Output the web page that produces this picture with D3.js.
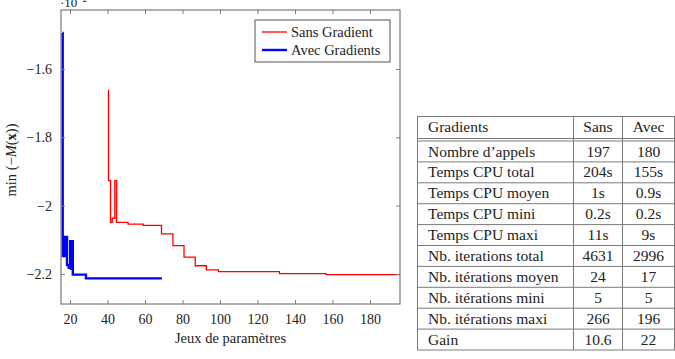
<!DOCTYPE html>
<html>
<head>
<meta charset="utf-8">
<script src="https://cdn.jsdelivr.net/npm/d3@7"></script>
<style>
  body { margin: 0; background: #fff; }
  text { font-family: "Liberation Serif", "DejaVu Serif", serif; fill: #222; }
</style>
</head>
<body>
<svg width="675" height="359"></svg>
<script>
// data, values scaled by 10^-2 like the original axis
const sansX = [40.3, 40.5, 41.6, 42.5, 43.9, 44.8, 51, 59, 68.8, 74.9, 80.8, 86.8, 92.7, 99.2, 131.7, 156.5, 197];
const sansY = [-1.663, -1.927, -2.049, -2.037, -1.927, -2.049, -2.054, -2.058, -2.083, -2.117, -2.151, -2.176, -2.188, -2.193, -2.199, -2.202, -2.202];
const avecX = [16, 16.1, 16.5, 16.9, 17.3, 17.7, 18.1, 18.4, 19.3, 20.1, 20.6, 21.1, 21.5, 28.5, 69];
const avecY = [-1.495, -2.148, -2.092, -2.148, -2.092, -2.148, -2.092, -2.174, -2.182, -2.104, -2.185, -2.104, -2.202, -2.213, -2.213];
const xTicks = [20, 40, 60, 80, 100, 120, 140, 160, 180];
const yTicks = [-1.6, -1.8, -2, -2.2];
const seriesNames = ['Sans Gradient', 'Avec Gradients'];
const seriesColors = ['#ff0000', '#0000ff'];

const tableHead = ['Gradients', 'Sans', 'Avec'];
const tableRows = ['Nombre d\u2019appels', 'Temps CPU total', 'Temps CPU moyen', 'Temps CPU mini', 'Temps CPU maxi',
  'Nb. iterations total', 'Nb. it\u00e9rations moyen', 'Nb. it\u00e9rations mini', 'Nb. it\u00e9rations maxi', 'Gain'];
const colSans = ['197', '204s', '1s', '0.2s', '11s', '4631', '24', '5', '266', '10.6'];
const colAvec = ['180', '155s', '0.9s', '0.2s', '9s', '2996', '17', '5', '196', '22'];

const svg = d3.select('svg');
const axisColor = '#7a7a7a';

// plot area
const L = 61, R = 400, T = 10, B = 304;
const x = d3.scaleLinear().domain([15.2, 196]).range([L, R]);
const y = d3.scaleLinear().domain([-2.288, -1.4275]).range([B, T]);
const fmt = d => (d < 0 ? '\u2212' : '') + Math.abs(d);

const clip = svg.append('clipPath').attr('id', 'plotclip')
clip.append('rect').attr('x', L).attr('y', T).attr('width', R - L).attr('height', B - T)

// series
const line = d3.line().curve(d3.curveStepAfter)
  .x(d => x(d[0])).y(d => y(d[1]))
const sansPts = sansX.map((v, i) => [v, sansY[i]])
const avecPts = avecX.map((v, i) => [v, avecY[i]])

svg.append('path')
  .attr('d', line(sansPts))
  .attr('fill', 'none')
  .attr('stroke', seriesColors[0])
  .attr('stroke-width', 1.3)
  .attr('clip-path', 'url(#plotclip)')

svg.append('path')
  .attr('d', line(avecPts))
  .attr('fill', 'none')
  .attr('stroke', seriesColors[1])
  .attr('stroke-width', 2.4)
  .attr('clip-path', 'url(#plotclip)')

// axes, ticks inside on all four sides
const styleAxis = g => {
  g.select('.domain').remove()
  g.selectAll('line').attr('stroke', axisColor)
  g.selectAll('text').attr('font-size', 14).attr('fill', '#222')
    .style('font-family', '"Liberation Serif", serif')
}
svg.append('g').attr('transform', `translate(0,${B})`)
  .call(d3.axisBottom(x).tickValues(xTicks).tickSize(-4).tickPadding(10).tickFormat(fmt))
  .call(styleAxis)
svg.append('g').attr('transform', `translate(0,${T})`)
  .call(d3.axisTop(x).tickValues(xTicks).tickSize(-4).tickFormat(''))
  .call(styleAxis)
svg.append('g').attr('transform', `translate(${L},0)`)
  .call(d3.axisLeft(y).tickValues(yTicks).tickSize(-4).tickPadding(9).tickFormat(fmt))
  .call(styleAxis)
svg.append('g').attr('transform', `translate(${R},0)`)
  .call(d3.axisRight(y).tickValues(yTicks).tickSize(-4).tickFormat(''))
  .call(styleAxis)

svg.append('rect')
  .attr('x', L).attr('y', T).attr('width', R - L).attr('height', B - T)
  .attr('fill', 'none').attr('stroke', axisColor).attr('stroke-width', 1.2)

// scale factor label (partly cut at the top, as in the source)
const sc = svg.append('text').attr('x', 60).attr('y', 7).attr('font-size', 13)
sc.append('tspan').text('\u00b710')
sc.append('tspan').attr('dy', -5).attr('font-size', 9).text('\u22122')

// axis labels
svg.append('text')
  .attr('x', (L + R) / 2).attr('y', 343)
  .attr('text-anchor', 'middle').attr('font-size', 14.5)
  .text('Jeux de param\u00e8tres')

const yl = svg.append('text')
  .attr('transform', 'translate(16,160) rotate(-90)')
  .attr('text-anchor', 'middle').attr('font-size', 14.5)
yl.append('tspan').text('min (\u2212')
yl.append('tspan').attr('font-style', 'italic').text('M')
yl.append('tspan').text('(')
yl.append('tspan').attr('font-weight', 'bold').text('x')
yl.append('tspan').text('))')

// legend
const leg = svg.append('g')
leg.append('rect')
  .attr('x', 255).attr('y', 20).attr('width', 135).attr('height', 42)
  .attr('fill', '#fff').attr('stroke', '#555').attr('stroke-width', 1)
seriesNames.forEach((name, i) => {
  const ly = 32 + i * 18
  leg.append('line')
    .attr('x1', 262).attr('x2', 287).attr('y1', ly).attr('y2', ly)
    .attr('stroke', seriesColors[i]).attr('stroke-width', i === 0 ? 1.3 : 2.4)
  leg.append('text')
    .attr('x', 291).attr('y', ly + 5)
    .attr('font-size', 14.5)
    .text(name)
})

// table
const tL = 417.5, tR = 674.5, tTop = 116.5, headB = 138.5, bodyTop = 141, rowH = 20.9
const c1 = 573.5, c2 = 622.5
const tbl = svg.append('g').attr('stroke', '#7a7a7a').attr('stroke-width', 1)
const tBottom = bodyTop + rowH * tableRows.length

tbl.append('rect').attr('x', tL).attr('y', tTop).attr('width', tR - tL).attr('height', tBottom - tTop).attr('fill', 'none')
tbl.append('line').attr('x1', tL).attr('x2', tR).attr('y1', headB).attr('y2', headB)
tbl.append('line').attr('x1', tL).attr('x2', tR).attr('y1', bodyTop).attr('y2', bodyTop)
tableRows.forEach((r, i) => {
  if (i > 0) {
    const ry = bodyTop + rowH * i
    tbl.append('line').attr('x1', tL).attr('x2', tR).attr('y1', ry).attr('y2', ry)
  }
})
;[c1, c2].forEach(cx => {
  tbl.append('line').attr('x1', cx).attr('x2', cx).attr('y1', tTop).attr('y2', tBottom)
})

const colMid = [(c1 + c2) / 2, (c2 + tR) / 2]
const tfs = 15.5
svg.append('text').attr('x', 428).attr('y', 132).attr('font-size', tfs).text(tableHead[0])
svg.append('text').attr('x', colMid[0]).attr('y', 132).attr('font-size', tfs).attr('text-anchor', 'middle').text(tableHead[1])
svg.append('text').attr('x', colMid[1]).attr('y', 132).attr('font-size', tfs).attr('text-anchor', 'middle').text(tableHead[2])

tableRows.forEach((r, i) => {
  const by = bodyTop + rowH * i + 15.5
  svg.append('text').attr('x', 428).attr('y', by).attr('font-size', tfs).text(r)
  svg.append('text').attr('x', colMid[0]).attr('y', by).attr('font-size', tfs).attr('text-anchor', 'middle').text(colSans[i])
  svg.append('text').attr('x', colMid[1]).attr('y', by).attr('font-size', tfs).attr('text-anchor', 'middle').text(colAvec[i])
})
</script>
</body>
</html>
